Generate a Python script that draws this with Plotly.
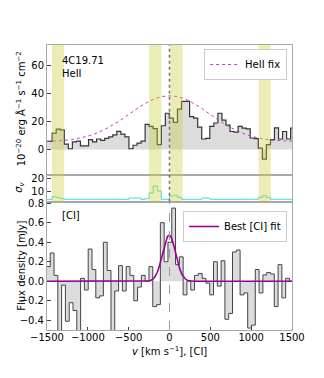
import plotly.graph_objects as go

# ---------------- data ----------------
# HeII spectrum (step histogram), bins of 49.5 km/s starting at -1536 km/s
heii_v0 = -1536.0
heii_dv = 49.5
heii_flux = [5.8, 5.8, 11.7, 14.6, 14.1, 3.8, 0.5, 5.5, 6.0, 2.5,
             2.5, 7.0, 5.5, 7.5, 6.5, 8.0, 9.0, 10.5, 13.0, 11.0,
             9.0, 0.5, 3.0, 4.5, 6.0, 18.0, 16.5, 15.0, 3.4, 17.0,
             26.0, 22.5, 19.5, 29.0, 34.5, 34.5, 23.5, 22.5, 16.0, 7.5,
             8.0, 16.5, 19.0, 26.0, 21.0, 17.4, 12.9, 12.5, 16.5, 15.3,
             14.8, 8.2, 7.7, 1.0, -6.9, 3.4, 7.0, 15.5, 7.5, 12.9,
             7.5, 15.3]
# sigma_v on the same grid
sigma_v = [3.5, 3.5, 5.5, 5.0, 4.0, 3.5, 3.5, 3.5, 3.5, 3.5,
           3.5, 3.5, 3.5, 3.5, 3.5, 3.5, 3.5, 3.5, 3.5, 3.5,
           3.5, 4.5, 4.5, 4.5, 3.5, 4.0, 8.5, 13.9, 10.0, 3.5,
           3.5, 6.0, 6.8, 5.0, 3.5, 3.5, 3.5, 3.5, 3.5, 4.5,
           4.5, 3.5, 3.5, 3.5, 3.5, 3.5, 3.5, 3.5, 3.5, 3.5,
           3.5, 3.5, 3.5, 5.0, 6.3, 5.0, 3.5, 3.5, 3.5, 3.5,
           3.5, 3.5]
# HeII fix curve
heii_fix_v = [-1500, -1400, -1300, -1200, -1100, -1000, -900, -800, -700, -600,
              -500, -400, -300, -200, -100, 0, 100, 200, 300, 400,
              500, 600, 700, 800, 900, 1000, 1100, 1200, 1300, 1400, 1500]
heii_fix = [5.8, 6.1, 6.5, 7.1, 8.2, 9.6, 11.6, 14.2, 17.4, 21.1,
            25.1, 29.2, 32.9, 35.9, 37.8, 38.5, 37.8, 35.9, 32.9, 29.2,
            25.1, 21.1, 17.4, 14.2, 11.6, 9.6, 8.2, 7.1, 6.5, 6.2, 6.0]

# [CI] spectrum, bins of 46.5 km/s starting at -1507 km/s
ci_v0 = -1507.0
ci_dv = 46.5
ci_flux = [0.15, 0.29, 0.06, -0.60, -0.04, -0.41, -0.22, -0.30, -0.60, 0.03,
           -0.09, 0.33, 0.12, -0.17, -0.15, 0.40, 0.11, -0.60, -0.10, 0.16,
           -0.10, 0.15, 0.06, -0.20, -0.06, 0.06, 0.00, 0.15, -0.26, -0.24,
           0.60, 0.20, 0.40, 0.75, 0.17, 0.25, -0.14, 0.00, -0.09, 0.06,
           0.08, 0.03, -0.02, -0.14, 0.20, -0.05, 0.21, -0.39, -0.33, 0.30,
           0.32, -0.14, -0.12, -0.48, -0.45, 0.12, -0.12, 0.065, 0.09, 0.075,
           -0.26, 0.17, -0.17, 0.03, 0.00]
# Best [CI] fit
ci_fit_v = [-1500, -300, -275, -250, -225, -200, -175, -150, -125, -100, -75, -50, -25,
            0, 25, 50, 75, 100, 125, 150, 175, 200, 225, 250, 275, 300, 1500]
ci_fit = [0.0, 0.0, 0.002, 0.004, 0.011, 0.024, 0.050, 0.092, 0.154, 0.235, 0.324, 0.406, 0.460,
          0.474, 0.443, 0.375, 0.288, 0.200, 0.127, 0.073, 0.038, 0.018, 0.008, 0.003, 0.001, 0.0, 0.0]

# masked velocity ranges (yellow bands)
bands = [(-1440, -1290), (-250, -100), (10, 160), (1090, 1240)]

x_ticks = [-1500, -1000, -500, 0, 500, 1000, 1500]
x_ticktext = ["\u22121500", "\u22121000", "\u2212500", "0", "500", "1000", "1500"]
top_ticks = [0, 20, 40, 60]
mid_ticks = [10, 20]
bot_ticks = [-0.4, -0.2, 0.0, 0.2, 0.4, 0.6, 0.8]
bot_ticktext = ["\u22120.4", "\u22120.2", "0.0", "0.2", "0.4", "0.6", "0.8"]


def step_xy(v0, dv, vals):
    xs = [v0 + i * dv for i in range(len(vals) + 1)]
    ys = list(vals) + [vals[-1]]
    return xs, ys


FONT = "DejaVu Sans"
fig = go.Figure()

hx, hy = step_xy(heii_v0, heii_dv, heii_flux)
fig.add_trace(go.Scatter(x=hx, y=hy, mode="lines", line_shape="hv",
                         line=dict(color="#333333", width=1.2),
                         fill="tozeroy", fillcolor="#dcdcdc",
                         xaxis="x3", yaxis="y3", showlegend=False))
fig.add_trace(go.Scatter(x=heii_fix_v, y=heii_fix, mode="lines", line_shape="spline",
                         line=dict(color="#c040c0", width=1, dash="dot"),
                         name="HeII fix", xaxis="x3", yaxis="y3", legend="legend"))

sx, sy = step_xy(heii_v0, heii_dv, sigma_v)
fig.add_trace(go.Scatter(x=sx, y=sy, mode="lines", line_shape="hv",
                         line=dict(color="#40e0d0", width=1),
                         xaxis="x2", yaxis="y2", showlegend=False))

cx, cy = step_xy(ci_v0, ci_dv, ci_flux)
fig.add_trace(go.Scatter(x=cx, y=cy, mode="lines", line_shape="hv",
                         line=dict(color="#444444", width=1),
                         fill="tozeroy", fillcolor="#dcdcdc",
                         xaxis="x", yaxis="y", showlegend=False))
fig.add_trace(go.Scatter(x=ci_fit_v, y=ci_fit, mode="lines",
                         line=dict(color="#990099", width=1.6),
                         name="Best [CI] fit", xaxis="x", yaxis="y", legend="legend2"))

d_bot = [0.0, 0.450]
d_mid = [0.450, 0.5456]
d_top = [0.5456, 1.0]

frame = dict(showline=True, mirror=True, linecolor="#a8a8a8", linewidth=1,
             showgrid=False, zeroline=False)
tickf = dict(family=FONT, size=10, color="#000000")

shapes = []
for b0, b1 in bands:
    shapes.append(dict(type="rect", xref="x", yref="paper", x0=b0, x1=b1,
                       y0=d_mid[0], y1=1.0, fillcolor="rgba(204,204,60,0.38)",
                       line=dict(width=0), layer="above"))
shapes.append(dict(type="line", xref="x", yref="paper", x0=0, x1=0, y0=d_mid[0], y1=1.0,
                   line=dict(color="#777777", width=1.6, dash="dot"), layer="above"))
shapes.append(dict(type="line", xref="x", yref="paper", x0=0, x1=0, y0=0, y1=d_bot[1],
                   line=dict(color="#9a9a9a", width=1, dash="dash"), layer="above"))

def px2x(px):
    return (px - 40) / 252.0

def py2y(py):
    return (330 - py) / 285.0

annotations = [
    dict(text="4C19.71", x=px2x(53), y=py2y(61), xref="paper", yref="paper",
         xanchor="left", yanchor="middle", showarrow=False, font=tickf),
    dict(text="HeII", x=px2x(53), y=py2y(73.5), xref="paper", yref="paper",
         xanchor="left", yanchor="middle", showarrow=False, font=tickf),
    dict(text="[CI]", x=px2x(53), y=py2y(215), xref="paper", yref="paper",
         xanchor="left", yanchor="middle", showarrow=False, font=tickf),
    dict(text="10<sup>\u221220</sup> erg \u00c5<sup>\u22121</sup> s<sup>\u22121</sup> cm<sup>\u22122</sup>",
         x=px2x(13), y=py2y(108.5), xref="paper", yref="paper", textangle=-90,
         xanchor="center", yanchor="middle", showarrow=False, font=tickf),
    dict(text="<i>\u03c3<sub>v</sub></i>", x=px2x(11), y=py2y(187), xref="paper", yref="paper",
         textangle=-90, xanchor="center", yanchor="middle", showarrow=False, font=tickf),
    dict(text="Flux density [mJy]", x=px2x(13), y=py2y(266), xref="paper", yref="paper",
         textangle=-90, xanchor="center", yanchor="middle", showarrow=False, font=tickf),
    dict(text="<i>v</i> [km s<sup>\u22121</sup>], [CI]", x=0.5, y=py2y(351), xref="paper",
         yref="paper", xanchor="center", yanchor="middle", showarrow=False, font=tickf),
]

tick_common = dict(ticks="inside", ticklen=3.5, tickcolor="#444", tickfont=tickf)

fig.update_layout(
    width=316, height=362,
    margin=dict(l=32, r=32, t=37, b=40),
    paper_bgcolor="white", plot_bgcolor="white",
    font=dict(family=FONT, size=10, color="#000000"),
    xaxis=dict(domain=[0, 1], anchor="y", range=[-1500, 1500], tickvals=x_ticks,
               ticktext=x_ticktext, ticklabelstandoff=-2, **tick_common, **frame),
    xaxis2=dict(domain=[0, 1], anchor="y2", range=[-1500, 1500], matches="x",
                showticklabels=False, ticks="", **frame),
    xaxis3=dict(domain=[0, 1], anchor="y3", range=[-1500, 1500], matches="x",
                showticklabels=False, ticks="", **frame),
    yaxis=dict(domain=d_bot, anchor="x", range=[-0.5, 0.815], tickvals=bot_ticks,
               ticktext=bot_ticktext, **tick_common, **frame),
    yaxis2=dict(domain=d_mid, anchor="x2", range=[1.6, 23], tickvals=mid_ticks,
                **tick_common, **frame),
    yaxis3=dict(domain=d_top, anchor="x3", range=[-18, 75], tickvals=top_ticks,
                **tick_common, **frame),
    legend=dict(x=0.98, y=0.986, xanchor="right", yanchor="top", bgcolor="white",
                bordercolor="#cccccc", borderwidth=1, font=tickf, itemwidth=30,
                tracegroupgap=0),
    legend2=dict(x=0.98, y=py2y(211), xanchor="right", yanchor="top", bgcolor="white",
                 bordercolor="#cccccc", borderwidth=1, font=tickf, itemwidth=30),
    shapes=shapes,
    annotations=annotations,
)

fig.write_html("out.html")
